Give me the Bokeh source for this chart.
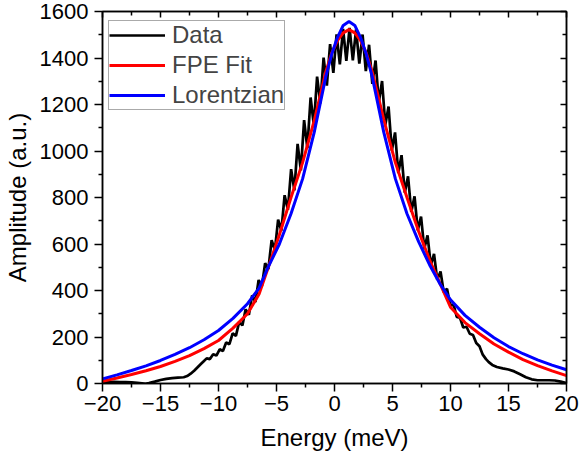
from bokeh.plotting import figure
from bokeh.models import LinearAxis, FixedTicker, Legend, LegendItem, Range1d
from bokeh.embed import file_html
from bokeh.resources import INLINE

# ---- data ----
data_x = [-20, -19.5, -19, -18.5, -18, -17.5, -17, -16.6, -16.3, -16, -15.5, -15, -14.5, -14, -13.5, -13,
          -12.7, -12.4, -12.1, -11.8, -11.5, -11.25,
          -11.02, -10.74, -10.46, -10.18, -9.90, -9.62, -9.34, -9.06, -8.78, -8.50, -8.22, -7.94,
          -7.66, -7.38, -7.10, -6.82, -6.54, -6.26, -5.98, -5.70, -5.42, -5.14, -4.86, -4.58,
          -4.30, -4.02, -3.74, -3.46, -3.18, -2.90, -2.62, -2.34, -2.06, -1.78, -1.50, -1.22,
          -0.94, -0.66, -0.38, -0.10, 0.18, 0.46, 0.74, 1.02, 1.30, 1.58, 1.86, 2.14, 2.42, 2.70,
          2.98, 3.26, 3.54, 3.82, 4.10, 4.38, 4.66, 4.94, 5.22, 5.50, 5.78, 6.06, 6.34, 6.62,
          6.90, 7.18, 7.46, 7.74, 8.02, 8.30, 8.58, 8.86, 9.14, 9.42, 9.70, 9.98, 10.26, 10.54,
          10.82, 11.10, 11.38, 11.66, 11.94, 12.22, 12.50, 12.78, 13.06,
          13.3, 13.6, 14, 14.5, 15, 15.5, 16, 16.5, 17, 17.5, 18, 18.5, 19, 19.5, 20]
data_y = [6, 6, 7, 6, 6, 5, 3, 1, -1, 2, 8, 15, 20, 23, 25, 27,
          32, 42, 55, 70, 85, 97,
          108, 105, 126, 120, 147, 140, 176, 169, 216, 205, 264, 250,
          319, 296, 379, 350, 445, 419, 518, 492, 617, 574, 705, 658,
          810, 747, 922, 831, 1031, 917, 1133, 1012, 1230, 1110, 1320, 1205,
          1402, 1281, 1460, 1336, 1502, 1373, 1525, 1388, 1530, 1390, 1523, 1376, 1501, 1344,
          1457, 1289, 1389, 1209, 1301, 1112, 1191, 1002, 1080, 905, 982, 821, 891, 738,
          805, 659, 718, 580, 637, 509, 557, 446, 482, 392, 408, 337, 340, 286,
          283, 241, 244, 214, 209, 174, 160, 124, 105,
          92, 80, 71, 65, 60, 52, 40, 27, 18, 14, 14, 14, 13, 8, 2]

fpe_x = [-20, -18.75, -17.5, -16.25, -15, -13.75, -12.5, -11.25, -10, -8.75, -7.5, -6.5, -5.75,
         -4.75, -3.75, -2.75, -1.75, -0.75, -0.25, 0.25, 0.75, 1.25, 1.75, 2.25, 2.75, 3.25,
         4.25, 5.25, 6.25, 7.25, 8.25, 9.1, 10, 11.25, 12.5, 13.75, 15, 16.25, 17.5, 18.75, 20]
fpe_y = [10, 24, 39, 55, 73, 95, 120, 150, 185, 238, 300, 385, 493,
         640, 800, 950, 1130, 1340, 1420, 1475, 1508, 1522, 1508, 1475, 1420, 1340,
         1135, 950, 800, 655, 525, 430, 328, 262, 214, 170, 135, 103, 77, 54, 34]

lor_x = [-20, -18.75, -17.5, -16.25, -15, -13.75, -12.5, -11.25, -10, -8.75, -7.5, -6.5, -5.75,
         -4.75, -3.75, -2.75, -1.75, -0.75, -0.25, 0.25, 0.75, 1.25, 1.75, 2.25, 2.75, 3.25,
         4.25, 5.25, 6.25, 7.25, 8.25, 9.1, 10, 11.25, 12.5, 13.75, 15, 16.25, 17.5, 18.75, 20]
lor_y = [20, 37, 56, 76, 99, 125, 154, 188, 228, 280, 343, 410, 497,
         600, 730, 880, 1080, 1320, 1415, 1488, 1540, 1557, 1540, 1488, 1415, 1320,
         1080, 880, 730, 610, 505, 428, 360, 293, 242, 197, 159, 128, 102, 79, 59]

x_ticks = [-20, -15, -10, -5, 0, 5, 10, 15, 20]
y_ticks = [0, 200, 400, 600, 800, 1000, 1200, 1400, 1600]
x_minor = [-17.5, -12.5, -7.5, -2.5, 2.5, 7.5, 12.5, 17.5]
y_minor = [100, 300, 500, 700, 900, 1100, 1300, 1500]

FONT = "Liberation Sans"

p = figure(frame_width=464, frame_height=372, output_backend="svg", toolbar_location=None,
           x_range=Range1d(-20, 20), y_range=Range1d(0, 1600),
           min_border_left=93, min_border_right=13, min_border_top=11, min_border_bottom=72,
           x_axis_label="Energy (meV)", y_axis_label="Amplitude (a.u.)")
p.xgrid.visible = False
p.ygrid.visible = False
p.outline_line_color = "black"
p.outline_line_width = 1.5
p.background_fill_color = "white"
p.border_fill_color = "white"

r_data = p.line(data_x, data_y, line_color="black", line_width=2.7)
r_fpe = p.line(fpe_x, fpe_y, line_color="#ff0000", line_width=3)
r_lor = p.line(lor_x, lor_y, line_color="#0000ff", line_width=3)

def style_axis(ax, ticks, minor, labels=True, inward=False):
    ax.ticker = FixedTicker(ticks=ticks, minor_ticks=minor)
    ax.axis_line_color = "black"
    ax.axis_line_width = 1.5
    ax.major_tick_line_color = "black"
    ax.minor_tick_line_color = "black"
    ax.major_tick_line_width = 1.5
    ax.minor_tick_line_width = 1.5
    if inward:
        ax.major_tick_in = 6
        ax.major_tick_out = 0
        ax.minor_tick_in = 4
        ax.minor_tick_out = 0
    else:
        ax.major_tick_in = 0
        ax.major_tick_out = 8
        ax.minor_tick_in = 0
        ax.minor_tick_out = 4
    if labels:
        ax.major_label_text_font = FONT
        ax.major_label_text_font_size = "22px"
        ax.major_label_text_color = "black"
        ax.axis_label_text_font = FONT
        ax.axis_label_text_font_size = "24px"
        ax.axis_label_text_font_style = "normal"
        ax.axis_label_text_color = "black"
    else:
        ax.major_label_text_font_size = "1px"
        ax.major_label_text_color = None
        ax.major_label_standoff = 0

style_axis(p.xaxis[0], x_ticks, x_minor)
p.xaxis[0].major_label_standoff = 4
p.xaxis[0].axis_label_standoff = 10
style_axis(p.yaxis[0], y_ticks, y_minor)
p.yaxis[0].major_label_standoff = 6
p.yaxis[0].axis_label_standoff = 6

top = LinearAxis()
style_axis(top, x_ticks, x_minor, labels=False, inward=True)
p.add_layout(top, "above")
right = LinearAxis()
style_axis(right, y_ticks, y_minor, labels=False, inward=True)
p.add_layout(right, "right")

legend = Legend(items=[LegendItem(label="Data", renderers=[r_data]),
                       LegendItem(label="FPE Fit", renderers=[r_fpe]),
                       LegendItem(label="Lorentzian", renderers=[r_lor])],
                location=(6, 273))
legend.padding = 0
legend.margin = 0
legend.spacing = 2
legend.glyph_width = 56
legend.glyph_height = 24
legend.label_height = 24
legend.label_standoff = 7
legend.label_text_font = FONT
legend.label_text_font_size = "24px"
legend.border_line_color = "#555555"
legend.border_line_width = 1
legend.background_fill_color = "white"
legend.background_fill_alpha = 1
p.add_layout(legend)

open("out.html", "w").write(file_html(p, INLINE))
